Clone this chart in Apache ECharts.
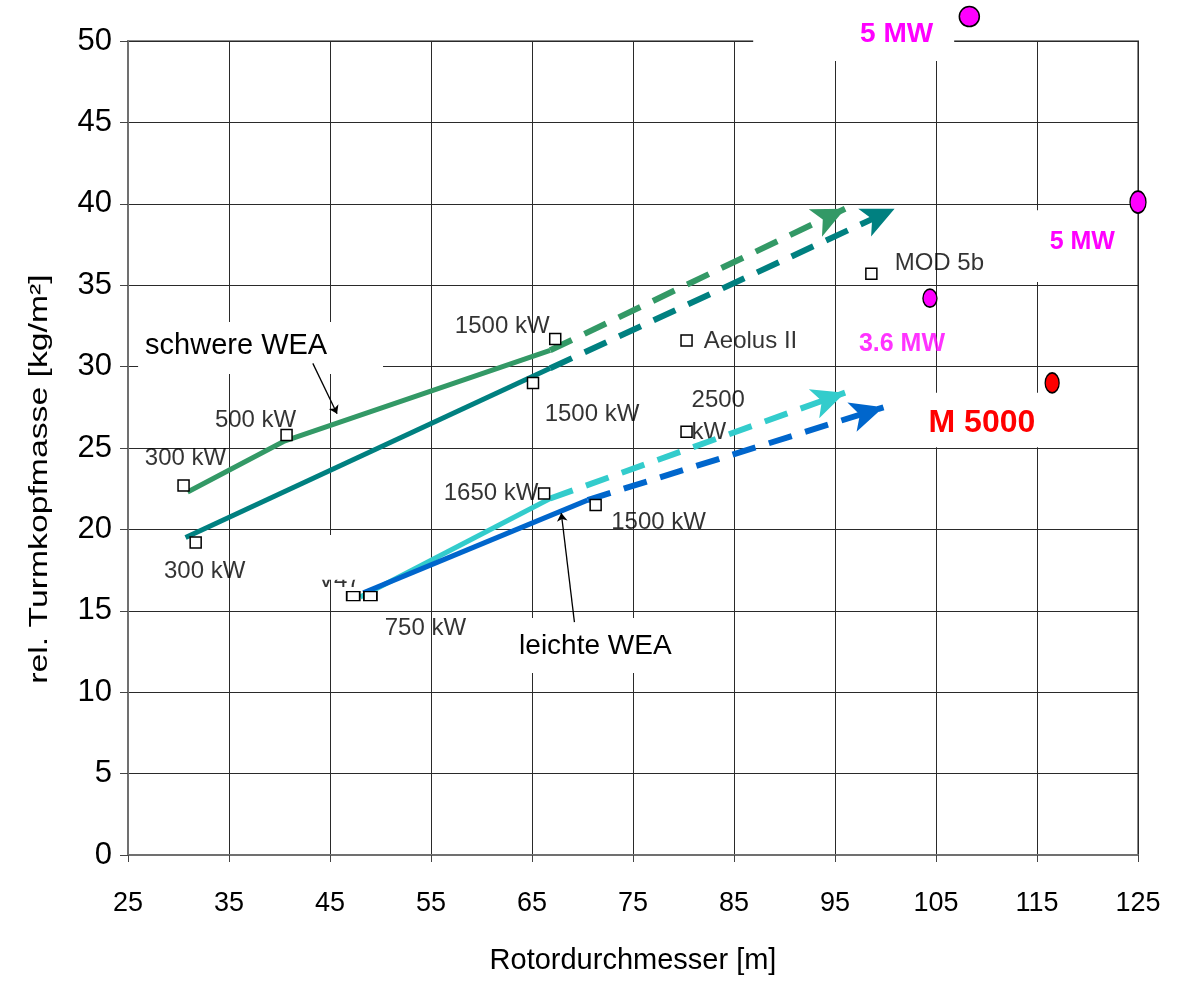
<!DOCTYPE html>
<html>
<head>
<meta charset="utf-8">
<script src="https://cdn.jsdelivr.net/npm/echarts@6/dist/echarts.min.js"></script>
<style>html,body{margin:0;padding:0;background:#fff}#c{width:1181px;height:985px}</style>
</head>
<body>
<div id="c"></div>
<script>
// ---------------- data ----------------
const xTickMin = 25, xTickMax = 125, xTickStep = 10;
const yTickMin = 0, yTickMax = 50, yTickStep = 5;

const squareX = [30.5, 31.7, 40.7, 47.3, 49.0, 66.2, 71.3, 67.3, 65.1, 80.3, 80.3, 98.6];
const squareY = [22.7, 19.2, 25.8, 15.9, 15.9, 22.2, 21.5, 31.7, 29.0, 31.6, 26.0, 35.7];
const squareNames = ['300 kW', '300 kW', '500 kW', 'V47', '750 kW', '1650 kW', '1500 kW', '1500 kW', '1500 kW', 'Aeolus II', '2500\nkW', 'MOD 5b'];

const circleX = [108.3, 125.0, 104.4, 116.5];
const circleY = [51.5, 40.1, 34.2, 29.0];
const circleNames = ['5 MW', '5 MW', '3.6 MW', 'M 5000'];

// heavy (schwere WEA) lines
const heavy1X = [30.9, 40.4, 66.8];
const heavy1Y = [22.3, 25.4, 31.0];
const heavy1TrendEnd = [96.0, 39.7];
const heavy2X = [30.7, 66.8];
const heavy2Y = [19.5, 29.9];
const heavy2TrendEnd = [100.9, 39.7];
// light (leichte WEA) lines
const light1X = [48.0, 66.8];
const light1Y = [15.85, 21.9];
const light1TrendEnd = [96.0, 28.4];
const light2X = [48.3, 70.5];
const light2Y = [16.1, 21.8];
const light2TrendEnd = [99.8, 27.5];

// annotation texts
const noteHeavy = 'schwere WEA';
const noteLight = 'leichte WEA';
const noteHeavyArrow = [[43.3, 30.2], [45.7, 27.1]];
const noteLightArrow = [[69.2, 14.3], [67.9, 21.0]];

const xName = 'Rotordurchmesser [m]';
const yName = 'rel. Turmkopfmasse [kg/m²]';

// white label boxes (x0, y0, x1, y1 in axis units)
const maskBoxes = [
  [86.9, 52.6, 106.8, 48.77],
  [112.3, 39.6, 124.7, 35.2],
  [101.4, 28.4, 117.3, 25.05],
  [26.0, 32.74, 50.25, 29.55],
  [61.8, 14.56, 80.15, 11.18],
  [42.0, 19.66, 48.2, 16.9]
];
const maskTexts = [circleNames[0], circleNames[1], circleNames[3], noteHeavy, noteLight, ''];

// ---------------- styles ----------------
const SANS = "'Liberation Sans', Arial, sans-serif";
const maskTextStyles = [
  { anchor: 'right', dist: 21, dy: 4, font: 'bold 28px ' + SANS, color: '#ff00ff' },
  { anchor: 'right', dist: 20, dy: -4, font: 'bold 25px ' + SANS, color: '#ff00ff' },
  { anchor: 'center', dist: 0, dy: 3, dx: 2, font: 'bold 32px ' + SANS, color: '#ff0000' },
  { anchor: 'left', dist: 7, dy: -2, font: '29px ' + SANS, color: '#000' },
  { anchor: 'center', dist: 0, dy: 1, dx: 3, font: '28px ' + SANS, color: '#000' },
  { anchor: 'center', dist: 0, dy: 0, font: '10px ' + SANS, color: '#000' }
];
const squareLabelOffsets = [[2, -27], [9, 29], [-31, -15], [-14, -16], [55, 32], [-53, 0], [63, 17], [-53, -13], [59, 31], [64, 1], [5, -15], [68, -10]];
const squareSizes = [11, 11, 11, [13, 9], [13, 9], 11, 11, 11, 11, 11, 11, 11];
const circleSizes = [[20, 20], [16, 22], [14, 18], [14, 20]];
const circleColors = ['#ff00ff', '#ff00ff', '#ff00ff', '#ff0000'];
const C_GREEN = '#339966', C_TEAL = '#008080', C_CYAN = '#33cccc', C_BLUE = '#0066cc';
const ARROW_SIZE = [23, 33];

const zip = (xs, ys) => xs.map((x, i) => [x, ys[i]]);

function trendLine(xs, ys, end, color) {
  const last = [xs[xs.length - 1], ys[ys.length - 1]];
  return {
    type: 'line', z: 4, silent: true, symbol: 'none', clip: false,
    data: zip(xs, ys),
    lineStyle: { color: color, width: 5 },
    markLine: {
      silent: true, animation: false,
      symbol: ['none', 'arrow'], symbolSize: 32,
      label: { show: false },
      lineStyle: { color: color, width: 6, type: [24, 14] },
      emphasis: { disabled: true },
      data: [[{ coord: last }, { coord: end, symbolSize: ARROW_SIZE }]]
    }
  };
}

const plainLabel = { fontFamily: SANS, fontSize: 24, color: '#000', textBorderWidth: 0, textBorderColor: 'transparent' };

const labelItems = squareX.map((x, i) => {
  if (i === 3) return null;
  const multi = squareNames[i].indexOf('\n') >= 0;
  return {
    value: [x, squareY[i]],
    label: {
      show: true, formatter: squareNames[i], position: 'inside',
      offset: squareLabelOffsets[i],
      align: multi ? 'left' : 'center',
      lineHeight: multi ? 32 : 26
    }
  };
}).filter(Boolean);

function renderMask(params, api) {
  const i = params.dataIndex;
  const p0 = api.coord([api.value(0), api.value(1)]);
  const p1 = api.coord([api.value(2), api.value(3)]);
  const x = Math.min(p0[0], p1[0]), y = Math.min(p0[1], p1[1]);
  const w = Math.abs(p1[0] - p0[0]), h = Math.abs(p1[1] - p0[1]);
  const st = maskTextStyles[i];
  let tx = x + w / 2 + (st.dx || 0);
  if (st.anchor === 'left') tx = x + st.dist;
  if (st.anchor === 'right') tx = x + w - st.dist;
  const children = [{ type: 'rect', shape: { x: x, y: y, width: w, height: h }, style: { fill: '#ffffff' } }];
  if (maskTexts[i]) {
    children.push({
      type: 'text', x: tx, y: y + h / 2 + st.dy,
      style: { text: maskTexts[i], font: st.font, fill: st.color, align: st.anchor, verticalAlign: 'middle' }
    });
  }
  return { type: 'group', children: children };
}

const option = {
  animation: false,
  backgroundColor: '#fff',
  grid: { left: 128, right: 43, top: 41, bottom: 130, show: true, borderColor: '#8a8a8a', borderWidth: 2, backgroundColor: 'transparent' },
  xAxis: {
    type: 'value', min: xTickMin, max: xTickMax, interval: xTickStep,
    name: xName, nameLocation: 'middle', nameGap: 91,
    nameTextStyle: { fontFamily: SANS, fontSize: 29, color: '#000' },
    axisLine: { show: true, lineStyle: { color: '#707070', width: 2 } },
    axisTick: { show: true, inside: false, length: 7, lineStyle: { color: '#444', width: 1 } },
    axisLabel: { margin: 35, fontFamily: SANS, fontSize: 27, color: '#000' },
    splitLine: { show: true, lineStyle: { color: '#2a2a2a', width: 1 } }
  },
  yAxis: {
    type: 'value', min: yTickMin, max: yTickMax, interval: yTickStep,
    axisLine: { show: true, lineStyle: { color: '#707070', width: 2 } },
    axisTick: { show: true, inside: false, length: 8, lineStyle: { color: '#444', width: 1 } },
    axisLabel: { margin: 16, fontFamily: SANS, fontSize: 31, color: '#000' },
    splitLine: { show: true, lineStyle: { color: '#2a2a2a', width: 1 } }
  },
  graphic: [{
    type: 'text', x: 40, y: 479, rotation: Math.PI / 2, scaleX: 1.35, z: 10,
    style: { text: yName, font: '25px ' + SANS, fill: '#000', align: 'center', verticalAlign: 'middle' }
  }],
  series: [
    // V47 label (partly hidden under mask)
    {
      type: 'scatter', z: 1, silent: true, symbolSize: 0, clip: false,
      data: [{ value: [squareX[3], squareY[3]], label: { show: true, formatter: squareNames[3], position: 'inside', offset: squareLabelOffsets[3] } }],
      label: plainLabel
    },
    // white masks with annotation text
    {
      type: 'custom', z: 2, silent: true, clip: false,
      renderItem: renderMask,
      encode: { x: [0, 2], y: [1, 3] },
      data: maskBoxes
    },
    // square labels
    {
      type: 'scatter', z: 3, silent: true, symbolSize: 0, clip: false,
      data: labelItems,
      label: plainLabel
    },
    trendLine(heavy1X, heavy1Y, heavy1TrendEnd, C_GREEN),
    trendLine(heavy2X, heavy2Y, heavy2TrendEnd, C_TEAL),
    trendLine(light1X, light1Y, light1TrendEnd, C_CYAN),
    trendLine(light2X, light2Y, light2TrendEnd, C_BLUE),
    // annotation pointer arrows
    {
      type: 'line', z: 4, silent: true, data: [], clip: false,
      markLine: {
        silent: true, symbol: ['none', 'arrow'], symbolSize: 8,
        label: { show: false }, emphasis: { disabled: true },
        lineStyle: { color: '#000', width: 1.3, type: 'solid' },
        data: [
          [{ coord: noteHeavyArrow[0] }, { coord: noteHeavyArrow[1] }],
          [{ coord: noteLightArrow[0] }, { coord: noteLightArrow[1] }]
        ]
      }
    },
    // squares
    {
      type: 'scatter', z: 6, silent: true, clip: false, symbol: 'rect',
      data: squareX.map((x, i) => ({ value: [x, squareY[i]], symbolSize: squareSizes[i] })),
      itemStyle: { color: '#fff', borderColor: '#000', borderWidth: 1.5, opacity: 1 }
    },
    // circles
    {
      type: 'scatter', z: 6, silent: true, clip: false, symbol: 'circle',
      data: circleX.map((x, i) => ({ value: [x, circleY[i]], symbolSize: circleSizes[i], itemStyle: { color: circleColors[i] } })),
      itemStyle: { borderColor: '#000', borderWidth: 1.5, opacity: 1 }
    },
    // 3.6 MW label (no mask)
    {
      type: 'scatter', z: 6, silent: true, symbolSize: 0, clip: false,
      data: [{ value: [circleX[2], circleY[2]], label: { show: true, formatter: circleNames[2], position: 'inside', offset: [-28, 46] } }],
      label: { fontFamily: SANS, fontWeight: 'bold', fontSize: 25, color: '#ff00ff', textBorderWidth: 0 }
    }
  ]
};

const chart = echarts.init(document.getElementById('c'), null, { renderer: 'canvas' });
chart.setOption(option);
</script>
</body>
</html>
